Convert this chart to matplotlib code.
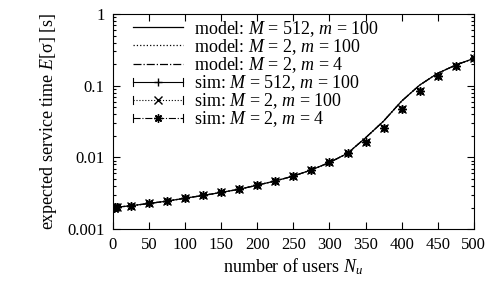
import matplotlib
matplotlib.use('Agg')
import matplotlib.pyplot as plt
from matplotlib.lines import Line2D
from matplotlib.legend_handler import HandlerBase
from matplotlib.ticker import LogLocator

plt.rcParams['font.family'] = 'Liberation Serif'
plt.rcParams['mathtext.fontset'] = 'custom'
plt.rcParams['mathtext.rm'] = 'Liberation Serif'
plt.rcParams['mathtext.it'] = 'Liberation Serif:italic'
plt.rcParams['font.size'] = 12

# data
users = [1, 2, 3, 5, 25, 50, 75, 100, 125, 150, 175, 200, 225, 250,
         275, 300, 325, 350, 375, 400, 425, 450, 475, 500]
model_512_100 = [0.00200, 0.00200, 0.00201, 0.00202, 0.00212, 0.00228, 0.00246,
                 0.00270, 0.00295, 0.00325, 0.00360, 0.00410, 0.00470, 0.00550,
                 0.00670, 0.00850, 0.01140, 0.01876, 0.03210, 0.06100, 0.10200,
                 0.14900, 0.19400, 0.24000]
model_2_100 = model_512_100
model_2_4 = model_512_100
sim_512_100 = [0.00200, 0.00200, 0.00201, 0.00202, 0.00212, 0.00228, 0.00246,
               0.00270, 0.00295, 0.00325, 0.00360, 0.00410, 0.00470, 0.00550,
               0.00670, 0.00850, 0.01140, 0.01620, 0.02590, 0.04700, 0.08500,
               0.13600, 0.19000, 0.24000]
sim_2_100 = sim_512_100
sim_2_4 = sim_512_100
err_frac = 0.06

ASTERISK = (8, 2, 0)  # gnuplot style '*' (plus and cross overlaid)


class CapHandler(HandlerBase):
    # gnuplot style errorbar key: line with end caps and a point in the middle
    def create_artists(self, legend, orig_handle, xdescent, ydescent,
                       width, height, fontsize, trans):
        y = height / 2 - ydescent
        x0, x1 = -xdescent, width - xdescent
        ls = orig_handle.get_linestyle()
        arts = [Line2D([x0, x1], [y, y], ls=ls, color='k', lw=0.8),
                Line2D([x0, x0], [y - 3, y + 3], color='k', lw=0.8),
                Line2D([x1, x1], [y - 3, y + 3], color='k', lw=0.8),
                Line2D([(x0 + x1) / 2], [y], marker=orig_handle.get_marker(),
                       color='k', ms=6, mew=1.0, ls='none')]
        for a in arts:
            a.set_transform(trans)
        return arts


fig = plt.figure(figsize=(4.91, 2.85), dpi=100)
ax = fig.add_axes([0.230, 0.196, 0.735, 0.755])

ax.plot(users, model_512_100, '-', color='k', lw=0.9,
        label=r'model: $M$ = 512, $m$ = 100')
ax.plot(users, model_2_100, ':', color='k', lw=0.9,
        label=r'model: $M$ = 2, $m$ = 100')
ax.plot(users, model_2_4, '-.', color='k', lw=0.9,
        label=r'model: $M$ = 2, $m$ = 4')

sims = [(sim_512_100, '+', '-', r'sim: $M$ = 512, $m$ = 100'),
        (sim_2_100, 'x', ':', r'sim: $M$ = 2, $m$ = 100'),
        (sim_2_4, ASTERISK, '-.', r'sim: $M$ = 2, $m$ = 4')]
handles = []
for vals, mk, ls, lab in sims:
    ax.errorbar(users, vals, yerr=[v * err_frac for v in vals], marker=mk,
                ls='none', color='k', ms=6, mew=1.0, elinewidth=0.8, capsize=2)
    handles.append(Line2D([], [], marker=mk, ls=ls, color='k', label=lab))

model_handles, _ = ax.get_legend_handles_labels()
all_handles = model_handles + handles
hmap = {h: CapHandler() for h in handles}
ax.legend(handles=all_handles, loc='upper left', frameon=False, fontsize=13,
          handlelength=2.8, handletextpad=0.6, labelspacing=-0.09,
          borderaxespad=0.1, bbox_to_anchor=(0.03, 1.02), handler_map=hmap)

ax.set_yscale('log')
ax.set_ylim(0.001, 1)
ax.set_xlim(0, 500)
ax.set_xticks(range(0, 501, 50))
ax.set_yticks([0.001, 0.01, 0.1, 1])
ax.set_yticklabels(['0.001', '0.01', '0.1', '1'])
ax.yaxis.set_minor_locator(LogLocator(subs=range(2, 10)))
ax.yaxis.set_minor_formatter(matplotlib.ticker.NullFormatter())
ax.tick_params(which='both', direction='in', top=True, right=True, width=0.8)
ax.tick_params(which='major', length=5, pad=6)
ax.tick_params(which='minor', length=2.5)
ax.tick_params(axis='x', which='minor', bottom=False, top=False)
for s in ax.spines.values():
    s.set_linewidth(0.8)

ax.set_xlabel(r'number of users $N_u$', fontsize=13, labelpad=2)
ax.set_ylabel(r'expected service time $E$[σ] [s]', fontsize=13, labelpad=6)

fig.savefig('out.png', dpi=100)
